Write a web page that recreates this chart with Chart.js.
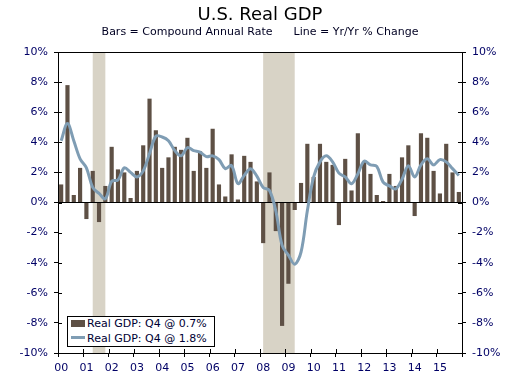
<!DOCTYPE html>
<html><head><meta charset="utf-8">
<script src="https://cdn.jsdelivr.net/npm/chart.js@4"></script>
<style>
html,body{margin:0;padding:0;background:#fff;}
#wrap{position:relative;width:515px;height:381px;}
#c{position:absolute;left:0;top:0;}
#legend{position:absolute;left:67px;top:316px;width:148px;height:31px;box-sizing:border-box;border:1px solid #000;background:#fff;font:11px 'DejaVu Sans',Verdana,sans-serif;color:#000033;}
.row{position:absolute;left:0;width:100%;height:11px;line-height:11px;white-space:nowrap;}
.sw{position:absolute;left:3px;width:14px;}
.tx{position:absolute;left:19px;top:0;}
</style></head>
<body>
<div id="wrap">
<canvas id="c" width="515" height="381"></canvas>
<div id="legend"></div>
</div>
<script>
// ---- data ----
const years = ['00','01','02','03','04','05','06','07','08','09','10','11','12','13','14','15'];
const quarterNames = ['Q1','Q2','Q3','Q4'];
const categories = years.flatMap(y => quarterNames.map(q => y + ' ' + q));
// Compound annual rate (bars)
const barValues = [
  1.2, 7.8, 0.5, 2.3,
  -1.1, 2.1, -1.3, 1.1,
  3.7, 2.2, 2.0, 0.3,
  2.1, 3.8, 6.9, 4.8,
  2.3, 3.0, 3.7, 3.5,
  4.3, 2.1, 3.4, 2.3,
  4.9, 1.2, 0.4, 3.2,
  0.2, 3.1, 2.7, 1.4,
  -2.7, 2.0, -1.9, -8.2,
  -5.4, -0.5, 1.3, 3.9,
  1.7, 3.9, 2.7, 2.5,
  -1.5, 2.9, 0.8, 4.6,
  2.7, 1.9, 0.5, 0.1,
  1.9, 1.1, 3.0, 3.8,
  -0.9, 4.6, 4.3, 2.1,
  0.6, 3.9, 2.0, 0.7
];
// Yr/Yr % change (line)
const lineValues = [
  4.1, 5.25, 4.1, 2.9,
  2.3, 1.0, 0.6, 0.25,
  1.4, 1.5, 2.3, 2.0,
  1.7, 2.1, 3.25, 4.4,
  4.35, 4.1, 3.45, 3.1,
  3.65, 3.45, 3.35, 3.05,
  3.1, 2.85, 2.25, 2.45,
  1.25, 1.8, 2.25, 1.75,
  1.0, 0.8, -0.55, -2.85,
  -3.5, -4.1, -3.3, -0.55,
  1.7, 2.7, 3.1, 2.7,
  1.95, 1.7, 1.25, 1.9,
  2.75, 2.5, 2.4, 1.35,
  1.1, 0.9, 1.55, 2.45,
  1.7, 2.5, 2.9, 2.5,
  2.85, 2.7, 2.25, 1.8
];
// recession shading: [start category index, end category index]
const recessions = [[5, 7], [32, 37]];
const legendLabels = ['Real GDP: Q4 @ 0.7%', 'Real GDP: Q4 @ 1.8%'];
const titleText = 'U.S. Real GDP';
const subtitleText = 'Bars = Compound Annual Rate      Line = Yr/Yr % Change';

// ---- styles ----
const barColor = '#5e5045';
const lineColor = '#7f9db4';
const shadeColor = '#d8d3c6';
const tickColor = '#000066';

Chart.defaults.font.family = "'DejaVu Sans', Verdana, sans-serif";
Chart.defaults.font.size = 11;

const shadePlugin = {
  id: 'shade',
  beforeDraw(chart) {
    const {ctx, chartArea: a, scales: {x}} = chart;
    ctx.save();
    ctx.fillStyle = shadeColor;
    recessions.forEach(([s, e]) => {
      const x0 = x.getPixelForValue(s), x1 = x.getPixelForValue(e);
      ctx.fillRect(x0, a.top, x1 - x0, a.bottom - a.top);
    });
    ctx.restore();
  }
};

const framePlugin = {
  id: 'frame',
  afterDraw(chart) {
    const {ctx, chartArea: a, scales} = chart;
    ctx.save();
    ctx.strokeStyle = '#000';
    ctx.lineWidth = 1;
    ctx.beginPath();
    const top = Math.round(a.top) + 0.5;
    ctx.moveTo(a.left, top); ctx.lineTo(a.right, top);
    scales.y.ticks.forEach(t => {
      const py = Math.round(scales.y.getPixelForValue(t.value)) + 0.5;
      ctx.moveTo(a.left, py); ctx.lineTo(a.left + 4, py);
      ctx.moveTo(a.right - 4, py); ctx.lineTo(a.right, py);
    });
    for (let k = 0; k <= years.length; k++) {
      const px = Math.round(scales.x.getPixelForValue(k * 4 - 0.5)) + 0.5;
      ctx.moveTo(px, a.bottom); ctx.lineTo(px, a.bottom - 4);
    }
    ctx.stroke();
    ctx.restore();
  }
};

const yTickOpts = {stepSize: 2, callback: v => v + '%', color: tickColor, padding: 6};

new Chart(document.getElementById('c'), {
  type: 'bar',
  data: {
    labels: categories,
    datasets: [
      {type: 'line', label: legendLabels[1], data: lineValues, borderColor: lineColor, borderWidth: 3,
       pointRadius: 0, tension: 0.35, fill: false, order: 0, yAxisID: 'y'},
      {type: 'bar', label: legendLabels[0], data: barValues, backgroundColor: barColor,
       barPercentage: 0.66, categoryPercentage: 1, order: 1, yAxisID: 'y'}
    ]
  },
  options: {
    responsive: false,
    animation: false,
    layout: {padding: 0},
    plugins: {
      legend: {display: false},
      tooltip: {enabled: false},
      title: {display: true, text: titleText, color: '#000', fullSize: false,
              font: {size: 18, weight: 'normal', lineHeight: 1}, padding: {top: 6.2, bottom: 0}},
      subtitle: {display: true, text: subtitleText, color: '#000022', fullSize: false,
              font: {size: 11, weight: 'normal', lineHeight: 1.2}, padding: {top: 1.1, bottom: 13.5}}
    },
    scales: {
      x: {
        type: 'category', offset: true,
        grid: {offset: true, drawOnChartArea: false, tickLength: 4,
               color: c => (c.index === undefined || c.index % 4 === 0) ? '#000' : 'rgba(0,0,0,0)',
               tickColor: c => (c.index === undefined || c.index % 4 === 0) ? '#000' : 'rgba(0,0,0,0)'},
        border: {color: '#000', width: 1},
        ticks: {autoSkip: false, maxRotation: 0, minRotation: 0, padding: 5, color: tickColor,
                callback: (v, i) => i % 4 === 0 ? years[i / 4] : ''},
        afterFit: s => { s.height = 28; }
      },
      y: {
        position: 'left', min: -10, max: 10,
        ticks: yTickOpts,
        grid: {color: c => (c.tick && c.tick.value === 0) ? '#000' : 'rgba(0,0,0,0)', tickColor: '#000', tickLength: 4},
        border: {color: '#000', width: 1},
        afterFit: s => { s.width = 58; }
      },
      y2: {
        position: 'right', min: -10, max: 10,
        ticks: yTickOpts,
        grid: {drawOnChartArea: false, tickColor: '#000', tickLength: 4},
        border: {color: '#000', width: 1},
        afterFit: s => { s.width = 53; }
      }
    }
  },
  plugins: [shadePlugin, framePlugin]
});

// legend (HTML)
const lg = document.getElementById('legend');
lg.innerHTML =
  '<div class="row" style="top:1px"><div class="sw" style="top:2px;height:7px;background:' + barColor + '"></div><span class="tx">' + legendLabels[0] + '</span></div>' +
  '<div class="row" style="top:16.4px"><div class="sw" style="top:2.5px;height:3px;background:' + lineColor + '"></div><span class="tx">' + legendLabels[1] + '</span></div>';
</script>
</body></html>
